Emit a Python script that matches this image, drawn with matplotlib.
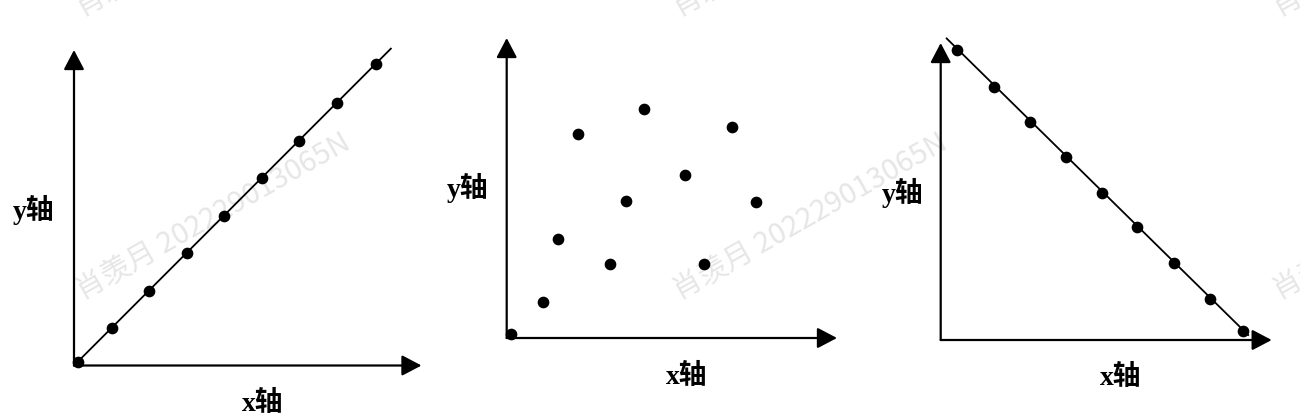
import matplotlib
matplotlib.use("Agg")
import matplotlib.pyplot as plt

W, H = 1300, 417

# positive correlation panel
pos_x = [0.1, 1, 2, 3, 4, 5, 6, 7, 8.05]
pos_y = [0.1, 1, 2, 3, 4, 5, 6, 7, 8.05]
pos_line_x = [0.1, 8.45]
pos_line_y = [0.1, 8.45]

# no correlation panel
mid_x = [0.12, 1.1, 1.56, 2.17, 3.14, 3.6, 4.17, 5.41, 5.97, 6.83, 7.55]
mid_y = [0.12, 1.09, 3.0, 6.17, 2.25, 4.14, 6.95, 4.94, 2.25, 6.38, 4.12]

# negative correlation panel
neg_x = [0.48, 1.62, 2.70, 3.79, 4.86, 5.92, 7.04, 8.13, 9.12]
neg_y = [8.76, 7.64, 6.60, 5.52, 4.45, 3.42, 2.33, 1.25, 0.28]
neg_line_x = [0.18, 9.29]
neg_line_y = [9.11, 0.15]

x_label = "x轴"
y_label = "y轴"
watermark = "肖羡月 202229013065N"

label_font = dict(family=["Liberation Serif", "Noto Sans CJK SC"], weight="bold", size=20)

fig = plt.figure(figsize=(W / 100, H / 100), dpi=100)


def make_axes(ox, oy, xlen, ylen, xmax, ymax):
    # ox, oy = origin in pixels (top-left based)
    ax = fig.add_axes([ox / W, 1 - oy / H, xlen / W, ylen / H])
    ax.set_xlim(0, xmax)
    ax.set_ylim(0, ymax)
    ax.axis("off")
    arrow = dict(arrowstyle="-|>,head_length=0.8,head_width=0.42", lw=1.6, color="black",
                 mutation_scale=15, shrinkA=0, shrinkB=0)
    ax.annotate("", xy=(1, 0), xytext=(0, 0), xycoords="axes fraction", arrowprops=arrow)
    ax.annotate("", xy=(0, 1), xytext=(0, 0), xycoords="axes fraction", arrowprops=arrow)
    return ax


def labels(ylx, yly, xlx, xly):
    fig.text(ylx / W, 1 - yly / H, y_label, ha="center", va="center", **label_font)
    fig.text(xlx / W, 1 - xly / H, x_label, ha="center", va="center", **label_font)


# watermark tiles (the top row is cut by the edge, as in the source)
for wx in [83, 680, 1280]:
    for wy in [300, 17]:
        fig.text(wx / W, 1 - wy / H, watermark, rotation=29.5, rotation_mode="anchor",
                 ha="left", va="baseline", color="#e6e6e6", fontsize=21,
                 family=["Noto Sans CJK SC", "DejaVu Sans"], zorder=-1)

ax1 = make_axes(74, 365.5, 347.5, 315.5, 347.5 / 37.5, 315.5 / 37.5)
ax1.plot(pos_line_x, pos_line_y, color="black", lw=1.3, clip_on=False)
ax1.plot(pos_x, pos_y, "o", color="black", ms=7.4, clip_on=False, zorder=5)
labels(34, 210, 263, 404)

ax2 = make_axes(506.7, 338, 330.3, 300, 330.3 / 33, 300 / 33)
ax2.plot(mid_x, mid_y, "o", color="black", ms=7.4, clip_on=False, zorder=5)
labels(468, 188, 687, 377)

ax3 = make_axes(940.7, 340, 331, 297, 331 / 33.1, 297 / 33.1)
ax3.plot(neg_line_x, neg_line_y, color="black", lw=1.3, clip_on=False)
ax3.plot(neg_x, neg_y, "o", color="black", ms=7.4, clip_on=False, zorder=5)
labels(903, 193, 1121, 378)

fig.savefig("out.png", dpi=100)
